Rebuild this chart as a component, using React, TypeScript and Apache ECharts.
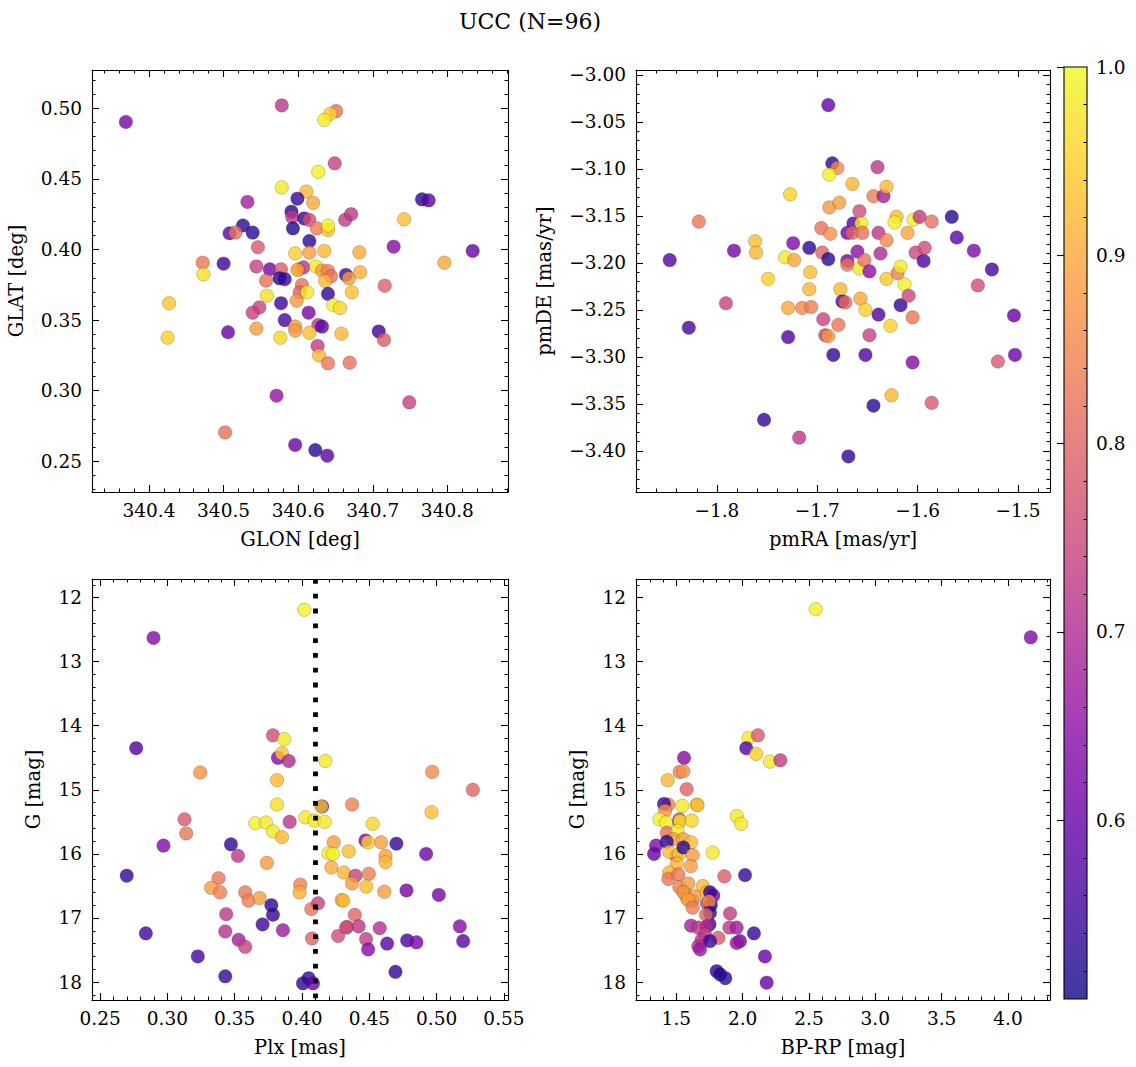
import React, { useEffect, useRef } from "react";
import * as echarts from "echarts";

// ---------------- data ----------------
// Top-left: galactic position
const glon = [340.369, 340.578, 340.651, 340.643, 340.635, 340.649, 340.627, 340.578, 340.611, 340.599, 340.620, 340.532, 340.766, 340.775, 340.591, 340.592, 340.608, 340.615, 340.663, 340.671, 340.742, 340.593, 340.625, 340.640, 340.640, 340.526, 340.539, 340.508, 340.516, 340.546, 340.615, 340.728, 340.834, 340.596, 340.615, 340.635, 340.682, 340.472, 340.500, 340.796, 340.544, 340.473, 340.562, 340.577, 340.575, 340.582, 340.601, 340.607, 340.624, 340.632, 340.640, 340.644, 340.636, 340.664, 340.668, 340.683, 340.557, 340.605, 340.602, 340.612, 340.640, 340.672, 340.716, 340.558, 340.598, 340.577, 340.427, 340.647, 340.656, 340.548, 340.539, 340.614, 340.582, 340.596, 340.596, 340.627, 340.632, 340.544, 340.506, 340.708, 340.715, 340.615, 340.658, 340.576, 340.425, 340.626, 340.628, 340.640, 340.669, 340.571, 340.749, 340.502, 340.596, 340.623, 340.639, 340.599];
const glat = [0.4903, 0.502, 0.498, 0.496, 0.4917, 0.461, 0.455, 0.444, 0.441, 0.436, 0.433, 0.4337, 0.4355, 0.4348, 0.4268, 0.423, 0.422, 0.421, 0.421, 0.425, 0.4214, 0.415, 0.415, 0.4138, 0.417, 0.417, 0.412, 0.4115, 0.412, 0.4016, 0.406, 0.402, 0.399, 0.3973, 0.3978, 0.399, 0.398, 0.3907, 0.390, 0.3907, 0.388, 0.3824, 0.386, 0.386, 0.3796, 0.379, 0.386, 0.3874, 0.388, 0.385, 0.3848, 0.381, 0.3777, 0.382, 0.3796, 0.3839, 0.378, 0.3749, 0.3697, 0.3697, 0.3686, 0.3697, 0.3744, 0.3673, 0.3638, 0.362, 0.362, 0.3607, 0.3586, 0.359, 0.3553, 0.3553, 0.350, 0.3454, 0.3425, 0.3466, 0.3454, 0.344, 0.3414, 0.342, 0.336, 0.341, 0.3404, 0.3376, 0.3376, 0.3317, 0.325, 0.3194, 0.3199, 0.2965, 0.2918, 0.2705, 0.2616, 0.258, 0.254, 0.3855];
const probPos = [0.62, 0.72, 0.82, 0.95, 0.98, 0.74, 0.99, 0.98, 0.92, 0.54, 0.90, 0.68, 0.53, 0.58, 0.53, 0.72, 0.54, 0.76, 0.73, 0.72, 0.93, 0.52, 0.84, 0.93, 0.99, 0.53, 0.53, 0.58, 0.82, 0.78, 0.53, 0.64, 0.60, 0.95, 0.89, 0.92, 0.91, 0.83, 0.55, 0.90, 0.74, 0.97, 0.62, 0.79, 0.53, 0.54, 0.92, 0.72, 0.98, 0.88, 0.84, 0.82, 0.92, 0.55, 0.88, 0.91, 0.82, 0.82, 0.80, 0.98, 0.54, 0.93, 0.80, 0.97, 0.88, 0.55, 0.94, 0.99, 0.96, 0.74, 0.74, 0.62, 0.56, 0.89, 0.88, 0.72, 0.58, 0.89, 0.60, 0.55, 0.79, 0.93, 0.92, 0.96, 0.95, 0.73, 0.92, 0.83, 0.82, 0.66, 0.74, 0.82, 0.60, 0.53, 0.58, 0.90];

// Top-right: proper motions
const pmra = [-1.847, -1.828, -1.818, -1.783, -1.791, -1.762, -1.761, -1.749, -1.753, -1.727, -1.724, -1.732, -1.723, -1.729, -1.729, -1.718, -1.715, -1.706, -1.708, -1.707, -1.708, -1.696, -1.695, -1.689, -1.685, -1.680, -1.688, -1.688, -1.678, -1.687, -1.689, -1.677, -1.694, -1.692, -1.689, -1.679, -1.684, -1.675, -1.672, -1.670, -1.670, -1.670, -1.669, -1.665, -1.664, -1.665, -1.660, -1.658, -1.658, -1.656, -1.655, -1.653, -1.657, -1.652, -1.652, -1.648, -1.648, -1.644, -1.644, -1.640, -1.634, -1.639, -1.637, -1.639, -1.631, -1.631, -1.631, -1.627, -1.626, -1.621, -1.623, -1.620, -1.617, -1.617, -1.610, -1.613, -1.609, -1.605, -1.605, -1.604, -1.598, -1.602, -1.593, -1.594, -1.586, -1.586, -1.566, -1.561, -1.544, -1.540, -1.526, -1.520, -1.504, -1.503];
const pmde = [-3.197, -3.269, -3.156, -3.187, -3.243, -3.177, -3.189, -3.217, -3.367, -3.127, -3.179, -3.194, -3.197, -3.248, -3.279, -3.386, -3.248, -3.247, -3.184, -3.210, -3.228, -3.163, -3.189, -3.032, -3.094, -3.099, -3.106, -3.141, -3.136, -3.169, -3.196, -3.228, -3.260, -3.277, -3.278, -3.266, -3.298, -3.241, -3.242, -3.168, -3.198, -3.202, -3.406, -3.116, -3.158, -3.168, -3.188, -3.145, -3.206, -3.158, -3.168, -3.197, -3.238, -3.250, -3.298, -3.209, -3.277, -3.352, -3.129, -3.098, -3.129, -3.168, -3.190, -3.255, -3.119, -3.176, -3.217, -3.267, -3.341, -3.151, -3.157, -3.211, -3.204, -3.245, -3.168, -3.223, -3.235, -3.258, -3.306, -3.154, -3.151, -3.189, -3.184, -3.198, -3.156, -3.349, -3.151, -3.173, -3.187, -3.224, -3.207, -3.305, -3.256, -3.298];
const probPm = [0.57, 0.56, 0.83, 0.62, 0.74, 0.93, 0.92, 0.95, 0.54, 0.95, 0.63, 0.98, 0.90, 0.90, 0.57, 0.72, 0.86, 0.84, 0.53, 0.93, 0.92, 0.82, 0.80, 0.60, 0.54, 0.86, 0.99, 0.88, 0.89, 0.87, 0.53, 0.92, 0.74, 0.74, 0.88, 0.83, 0.54, 0.58, 0.81, 0.62, 0.62, 0.82, 0.54, 0.92, 0.58, 0.80, 0.65, 0.76, 0.98, 0.98, 0.82, 0.82, 0.90, 0.95, 0.57, 0.65, 0.74, 0.53, 0.84, 0.72, 0.68, 0.72, 0.70, 0.57, 0.92, 0.86, 0.94, 0.95, 0.92, 0.93, 0.99, 0.84, 0.98, 0.54, 0.90, 0.99, 0.75, 0.83, 0.64, 0.99, 0.73, 0.75, 0.76, 0.57, 0.82, 0.78, 0.53, 0.58, 0.63, 0.76, 0.56, 0.78, 0.60, 0.60];

// Bottom-left: parallax vs G
const plx = [0.4017, 0.2897, 0.2768, 0.3244, 0.3784, 0.3868, 0.3821, 0.3851, 0.3901, 0.4173, 0.3814, 0.4967, 0.5269, 0.3814, 0.4149, 0.4144, 0.4372, 0.4962, 0.3127, 0.3653, 0.3732, 0.3784, 0.3908, 0.4025, 0.4094, 0.4168, 0.4525, 0.3140, 0.3851, 0.2971, 0.3472, 0.3524, 0.4235, 0.4347, 0.4471, 0.4490, 0.4587, 0.4701, 0.4197, 0.4230, 0.4620, 0.4620, 0.4922, 0.2698, 0.3739, 0.4218, 0.4310, 0.4397, 0.4496, 0.4372, 0.4478, 0.3380, 0.3325, 0.3392, 0.3987, 0.3982, 0.3578, 0.3603, 0.3685, 0.4612, 0.4295, 0.4307, 0.4776, 0.5016, 0.3772, 0.3784, 0.3437, 0.4069, 0.4119, 0.4392, 0.2840, 0.3707, 0.3858, 0.3430, 0.4074, 0.4268, 0.4335, 0.4327, 0.4421, 0.4577, 0.4476, 0.4491, 0.4632, 0.4781, 0.4850, 0.5172, 0.5197, 0.3529, 0.3578, 0.3226, 0.3430, 0.4007, 0.4049, 0.4082, 0.4694];
const gmagPlx = [12.19, 12.63, 14.35, 14.73, 14.15, 14.21, 14.50, 14.43, 14.55, 14.55, 14.85, 14.72, 15.00, 15.23, 15.26, 15.26, 15.23, 15.35, 15.46, 15.52, 15.51, 15.65, 15.50, 15.43, 15.48, 15.50, 15.53, 15.68, 15.74, 15.87, 15.85, 16.03, 15.82, 15.96, 15.79, 15.82, 15.82, 15.84, 15.99, 16.00, 16.03, 16.13, 16.00, 16.34, 16.14, 16.21, 16.29, 16.34, 16.31, 16.46, 16.51, 16.38, 16.53, 16.60, 16.48, 16.60, 16.60, 16.73, 16.69, 16.59, 16.72, 16.73, 16.57, 16.64, 16.80, 16.95, 16.94, 16.86, 16.77, 16.95, 17.24, 17.10, 17.19, 17.21, 17.32, 17.28, 17.14, 17.15, 17.13, 17.16, 17.33, 17.49, 17.40, 17.35, 17.38, 17.13, 17.36, 17.34, 17.45, 17.60, 17.91, 18.02, 17.94, 18.02, 17.84];
const probPlx = [0.99, 0.64, 0.57, 0.87, 0.76, 0.98, 0.64, 0.94, 0.70, 0.98, 0.92, 0.86, 0.80, 0.97, 0.54, 0.93, 0.84, 0.93, 0.78, 0.99, 0.98, 0.98, 0.72, 0.98, 0.98, 0.98, 0.96, 0.83, 0.92, 0.63, 0.54, 0.72, 0.89, 0.93, 0.64, 0.95, 0.89, 0.54, 0.98, 0.99, 0.89, 0.92, 0.61, 0.54, 0.88, 0.91, 0.92, 0.74, 0.84, 0.88, 0.93, 0.83, 0.88, 0.84, 0.84, 0.91, 0.83, 0.84, 0.89, 0.88, 0.90, 0.92, 0.62, 0.62, 0.53, 0.54, 0.72, 0.82, 0.74, 0.80, 0.55, 0.55, 0.67, 0.71, 0.80, 0.76, 0.74, 0.76, 0.72, 0.71, 0.73, 0.64, 0.58, 0.56, 0.62, 0.64, 0.58, 0.68, 0.74, 0.56, 0.54, 0.54, 0.54, 0.60, 0.54];
const plxRef = 0.4074;

// Bottom-right: colour-magnitude diagram
const bprp = [1.520, 1.500, 1.440, 1.560, 1.620, 1.580, 1.730, 1.750, 1.760, 2.551, 4.172, 2.045, 2.115, 2.027, 2.102, 2.206, 2.284, 1.558, 1.525, 1.553, 1.435, 1.578, 1.407, 1.545, 1.654, 1.660, 1.415, 1.372, 1.422, 1.523, 1.528, 1.616, 1.955, 1.988, 1.428, 1.510, 1.477, 1.553, 1.611, 1.347, 1.428, 1.332, 1.447, 1.523, 1.553, 1.623, 1.774, 1.503, 1.609, 1.447, 1.440, 1.515, 1.862, 2.018, 1.523, 1.590, 1.699, 1.553, 1.636, 1.729, 1.779, 1.754, 1.590, 1.746, 1.623, 1.754, 1.724, 1.905, 1.611, 1.666, 1.729, 1.900, 1.955, 2.085, 1.716, 1.817, 1.691, 1.754, 1.980, 1.955, 1.666, 1.679, 2.168, 1.804, 1.830, 1.869, 2.181];
const gmagCmd = [15.50, 16.03, 15.23, 16.60, 16.73, 16.69, 16.77, 17.10, 16.80, 12.18, 12.62, 14.19, 14.15, 14.35, 14.44, 14.56, 14.54, 14.50, 14.72, 14.71, 14.85, 14.99, 15.22, 15.25, 15.23, 15.24, 15.33, 15.46, 15.51, 15.46, 15.49, 15.48, 15.41, 15.53, 15.67, 15.64, 15.77, 15.77, 15.82, 15.87, 15.81, 16.00, 15.97, 16.00, 15.90, 16.02, 15.98, 16.15, 16.19, 16.29, 16.39, 16.32, 16.35, 16.33, 16.52, 16.46, 16.50, 16.60, 16.66, 16.60, 16.65, 16.60, 16.72, 16.74, 16.84, 16.92, 16.95, 16.93, 17.12, 17.15, 17.13, 17.15, 17.15, 17.24, 17.26, 17.31, 17.34, 17.36, 17.36, 17.39, 17.44, 17.49, 17.60, 17.83, 17.88, 17.94, 18.01];
const probCmd = [0.72, 0.72, 0.84, 0.84, 0.84, 0.89, 0.74, 0.55, 0.53, 0.99, 0.63, 0.98, 0.78, 0.57, 0.95, 0.98, 0.73, 0.64, 0.84, 0.87, 0.92, 0.80, 0.54, 0.98, 0.96, 0.92, 0.87, 0.99, 0.99, 0.76, 0.98, 0.96, 0.98, 0.98, 0.82, 0.98, 0.88, 0.89, 0.93, 0.63, 0.53, 0.60, 0.93, 0.96, 0.53, 0.88, 0.98, 0.92, 0.88, 0.92, 0.83, 0.83, 0.79, 0.54, 0.84, 0.88, 0.92, 0.88, 0.88, 0.92, 0.62, 0.54, 0.89, 0.86, 0.84, 0.54, 0.80, 0.73, 0.68, 0.72, 0.70, 0.72, 0.68, 0.54, 0.74, 0.78, 0.72, 0.55, 0.62, 0.66, 0.71, 0.67, 0.60, 0.54, 0.53, 0.53, 0.60];

// tick labels
const glonTicks = [340.4, 340.5, 340.6, 340.7, 340.8];
const glatTicks = [0.25, 0.30, 0.35, 0.40, 0.45, 0.50];
const pmraTicks = [-1.8, -1.7, -1.6, -1.5];
const pmdeTicks = [-3.40, -3.35, -3.30, -3.25, -3.20, -3.15, -3.10, -3.05, -3.00];
const plxTicks = [0.25, 0.30, 0.35, 0.40, 0.45, 0.50, 0.55];
const gTicks = [12, 13, 14, 15, 16, 17, 18];
const colTicks = [1.5, 2.0, 2.5, 3.0, 3.5, 4.0];
const cbarTicks = [0.6, 0.7, 0.8, 0.9, 1.0];

const PROB_MIN = 0.505;
const PROB_MAX = 1.0;

const PLASMA = ["#0d0887", "#41049d", "#6a00a8", "#8f0da4", "#b12a90", "#cc4778", "#e16462", "#f2844b", "#fca636", "#fcce25", "#f0f921"];

// ---------------- helpers ----------------
const FONT = "DejaVu Serif";
const FS_TICK = 18.5;
const FS_NAME = 19.5;

function minorTicks(from: number, to: number, step: number, majors: number[]) {
  const out: number[] = [];
  const n = Math.round((to - from) / step);
  for (let i = 0; i <= n; i++) {
    const v = Math.round((from + i * step) * 1e6) / 1e6;
    if (!majors.some((m) => Math.abs(m - v) < step / 10)) out.push(v);
  }
  return out;
}

function fmt(d: number) {
  return (v: number) => (v < 0 ? "\u2212" + (-v).toFixed(d) : v.toFixed(d));
}

function rgba(hex: string, a: number) {
  const r = parseInt(hex.slice(1, 3), 16);
  const g = parseInt(hex.slice(3, 5), 16);
  const b = parseInt(hex.slice(5, 7), 16);
  return `rgba(${r},${g},${b},${a})`;
}

type AxOpt = {
  min: number;
  max: number;
  major: number[];
  minor: number[];
  fmt: (v: number) => string;
  name: string;
  nameGap: number;
  inverse?: boolean;
};

function axisSet(dim: "x" | "y", gridIndex: number, o: AxOpt) {
  const posMain = dim === "x" ? "bottom" : "left";
  const posOther = dim === "x" ? "top" : "right";
  const base = {
    type: "value",
    gridIndex,
    min: o.min,
    max: o.max,
    inverse: !!o.inverse,
    splitLine: { show: false },
    silent: true,
  };
  const line = { show: true, onZero: false, lineStyle: { color: "#000", width: 1.1 } };
  const majorTick = { show: true, inside: true, length: 7, customValues: o.major, lineStyle: { color: "#000", width: 1.1 } };
  const minorTick = { show: true, inside: true, length: 3.5, customValues: o.minor, lineStyle: { color: "#000", width: 1 } };
  return [
    {
      ...base,
      position: posMain,
      axisLine: line,
      axisTick: majorTick,
      axisLabel: {
        show: true,
        customValues: o.major,
        formatter: o.fmt,
        color: "#000",
        fontFamily: FONT,
        fontSize: FS_TICK,
        margin: dim === "x" ? 9 : 10,
      },
      name: o.name,
      nameLocation: "middle",
      nameGap: o.nameGap,
      nameTextStyle: { color: "#000", fontFamily: FONT, fontSize: FS_NAME },
    },
    { ...base, position: posMain, axisLine: { show: false }, axisTick: minorTick, axisLabel: { show: false } },
    { ...base, position: posOther, axisLine: line, axisTick: majorTick, axisLabel: { show: false } },
    { ...base, position: posOther, axisLine: { show: false }, axisTick: minorTick, axisLabel: { show: false } },
  ];
}

const GRIDS = [
  { left: 92, top: 70, width: 416, height: 422 },
  { left: 636, top: 70, width: 414, height: 422 },
  { left: 92, top: 579, width: 416, height: 421 },
  { left: 636, top: 579, width: 414, height: 421 },
  { left: 1064, top: 67, width: 23, height: 932 },
];

function zip3(a: number[], b: number[], c: number[]) {
  return a.map((v, i) => [v, b[i], c[i]]);
}

export default function App() {
  const ref = useRef<HTMLDivElement>(null);

  useEffect(() => {
    if (!ref.current) return;
    const chart = echarts.init(ref.current, null, { renderer: "svg" });

    const xAxes = [
      ...axisSet("x", 0, { min: 340.3236, max: 340.8813, major: glonTicks, minor: minorTicks(340.34, 340.88, 0.02, glonTicks), fmt: fmt(1), name: "GLON [deg]", nameGap: 37 }),
      ...axisSet("x", 1, { min: -1.8806, max: -1.4681, major: pmraTicks, minor: minorTicks(-1.88, -1.48, 0.02, pmraTicks), fmt: fmt(1), name: "pmRA [mas/yr]", nameGap: 37 }),
      ...axisSet("x", 2, { min: 0.244, max: 0.553, major: plxTicks, minor: minorTicks(0.25, 0.55, 0.01, plxTicks), fmt: fmt(2), name: "Plx [mas]", nameGap: 37 }),
      ...axisSet("x", 3, { min: 1.196, max: 4.317, major: colTicks, minor: minorTicks(1.2, 4.3, 0.1, colTicks), fmt: fmt(1), name: "BP-RP [mag]", nameGap: 37 }),
      { type: "value", gridIndex: 4, min: 0, max: 1, show: false },
    ];
    const yAxes = [
      ...axisSet("y", 0, { min: 0.2283, max: 0.5271, major: glatTicks, minor: minorTicks(0.23, 0.52, 0.01, glatTicks), fmt: fmt(2), name: "GLAT [deg]", nameGap: 66 }),
      ...axisSet("y", 1, { min: -3.4439, max: -2.9947, major: pmdeTicks, minor: minorTicks(-3.44, -3.0, 0.01, pmdeTicks), fmt: fmt(2), name: "pmDE [mas/yr]", nameGap: 82 }),
      ...axisSet("y", 2, { min: 11.71, max: 18.28, inverse: true, major: gTicks, minor: minorTicks(11.8, 18.2, 0.2, gTicks), fmt: fmt(0), name: "G [mag]", nameGap: 49 }),
      ...axisSet("y", 3, { min: 11.71, max: 18.28, inverse: true, major: gTicks, minor: minorTicks(11.8, 18.2, 0.2, gTicks), fmt: fmt(0), name: "G [mag]", nameGap: 49 }),
      {
        type: "value",
        gridIndex: 4,
        min: PROB_MIN,
        max: PROB_MAX,
        position: "right",
        splitLine: { show: false },
        axisLine: { show: false },
        axisTick: { show: true, inside: true, length: 7, customValues: cbarTicks, lineStyle: { color: "#000", width: 1.1 } },
        axisLabel: { show: true, customValues: cbarTicks, formatter: fmt(1), color: "#000", fontFamily: FONT, fontSize: FS_TICK, margin: 9 },
      },
      {
        type: "value",
        gridIndex: 4,
        min: PROB_MIN,
        max: PROB_MAX,
        position: "right",
        splitLine: { show: false },
        axisLine: { show: false },
        axisTick: { show: true, inside: true, length: 3.5, customValues: minorTicks(0.52, 0.98, 0.02, cbarTicks), lineStyle: { color: "#000", width: 1 } },
        axisLabel: { show: false },
      },
    ];

    const pointStyle = {
      opacity: 0.8,
      borderColor: "rgba(30,30,30,0.55)",
      borderWidth: 0.5,
    };
    const mkSeries = (i: number, data: number[][], extra: any = {}) => ({
      type: "scatter",
      xAxisIndex: 4 * i,
      yAxisIndex: 4 * i,
      data,
      symbol: "circle",
      symbolSize: 13.5,
      itemStyle: pointStyle,
      silent: true,
      ...extra,
    });

    const gradStops = PLASMA.map((c, i) => ({ offset: i / (PLASMA.length - 1), color: rgba(c, 0.8) }));
    const cb = GRIDS[4];

    chart.setOption({
      animation: false,
      backgroundColor: "#fff",
      grid: GRIDS.map((g) => ({ ...g, containLabel: false })),
      xAxis: xAxes,
      yAxis: yAxes,
      visualMap: {
        type: "continuous",
        show: false,
        min: PROB_MIN,
        max: PROB_MAX,
        dimension: 2,
        seriesIndex: [0, 1, 2, 3],
        inRange: { color: PLASMA },
      },
      graphic: [
        {
          type: "text",
          x: 530,
          y: 21,
          style: {
            text: "UCC (N=96)",
            fontFamily: FONT,
            fontSize: 22,
            fill: "#000",
            textAlign: "center",
            textVerticalAlign: "middle",
          },
        },
        {
          type: "rect",
          shape: { x: cb.left, y: cb.top, width: cb.width, height: cb.height },
          style: {
            fill: { type: "linear", x: 0, y: 1, x2: 0, y2: 0, colorStops: gradStops },
            stroke: "#000",
            lineWidth: 1.1,
          },
          z: -1,
        },
      ],
      series: [
        mkSeries(0, zip3(glon, glat, probPos)),
        mkSeries(1, zip3(pmra, pmde, probPm)),
        mkSeries(2, zip3(plx, gmagPlx, probPlx), {
          markLine: {
            silent: true,
            symbol: ["none", "none"],
            label: { show: false },
            lineStyle: { color: "#000", width: 4.8, type: [4.8, 10], cap: "butt" },
            data: [{ xAxis: plxRef }],
          },
        }),
        mkSeries(3, zip3(bprp, gmagCmd, probCmd)),
      ],
    });

    return () => chart.dispose();
  }, []);

  return (
    <div
      ref={ref}
      style={{ position: "fixed", left: 0, top: 0, width: 1136, height: 1067, background: "#fff" }}
    />
  );
}
